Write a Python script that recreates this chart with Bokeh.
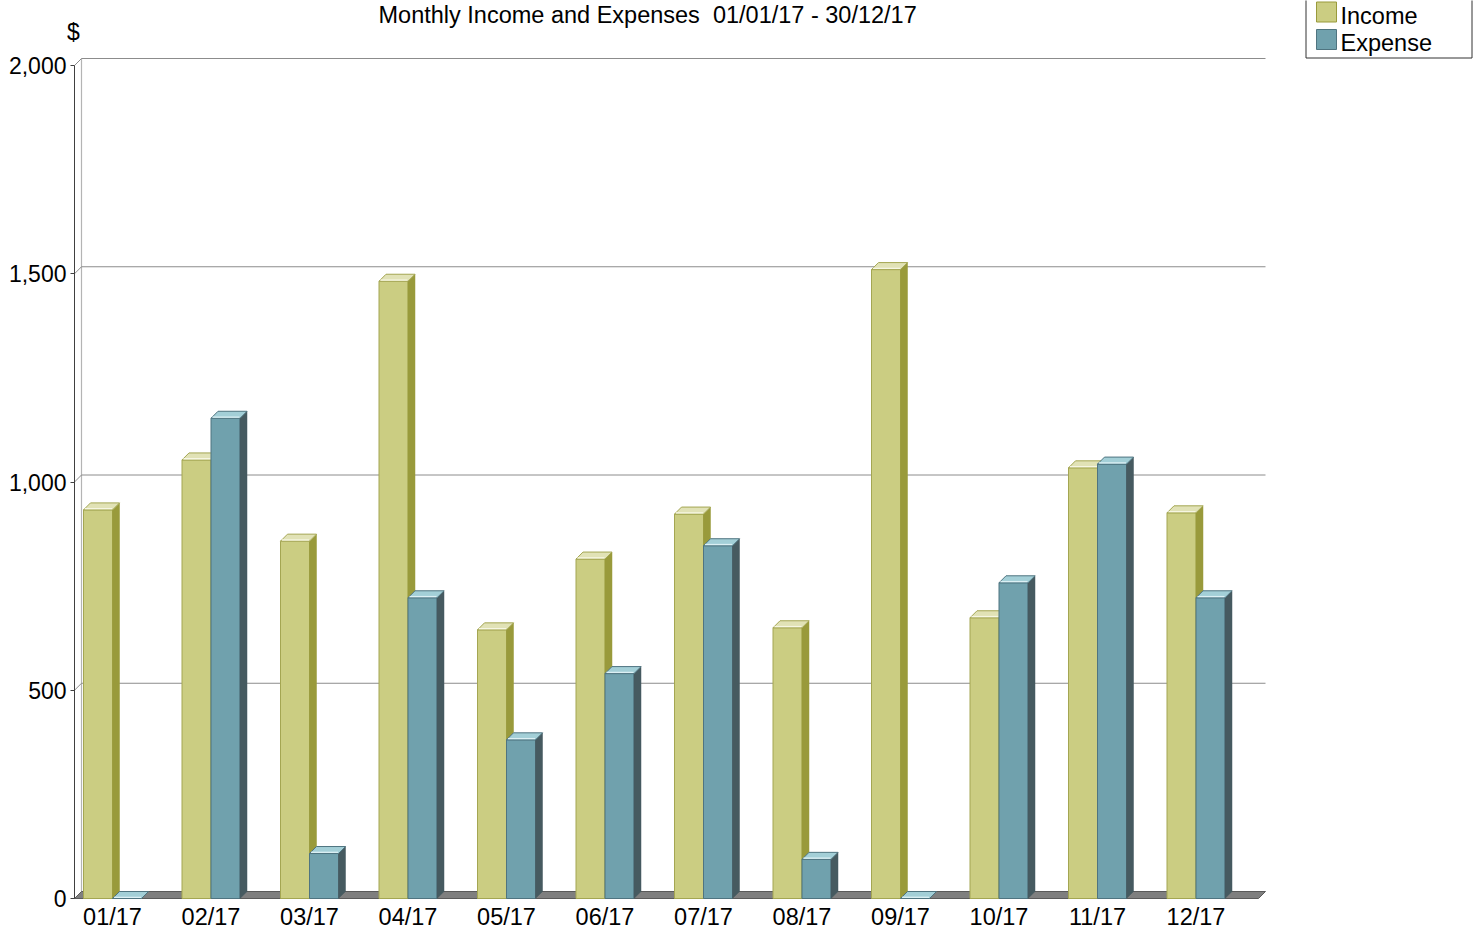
from bokeh.plotting import figure
from bokeh.models import Range1d, FixedTicker, NumeralTickFormatter
from bokeh.core.properties import value
from bokeh.embed import file_html
from bokeh.resources import INLINE

# ---------------- data ----------------
months = ["01/17", "02/17", "03/17", "04/17", "05/17", "06/17",
          "07/17", "08/17", "09/17", "10/17", "11/17", "12/17"]
income = [933, 1053, 858, 1482, 645, 815, 923, 650, 1510, 674, 1034, 926]
expense = [0, 1153, 108, 722, 381, 540, 847, 94, 0, 758, 1043, 722]
series_names = ["Income", "Expense"]
y_ticks = [0, 500, 1000, 1500, 2000]
title_text = "Monthly Income and Expenses \u00a001/01/17 - 30/12/17"
y_unit = "$"

# ---------------- styles ----------------
FONT = "Liberation Sans"
INC = dict(front="#cbcd82", side="#999a3b", top="#e1e2b6", edge="#a4a652",
           shine="#f6f6e2")
EXP = dict(front="#70a1ad", side="#465a60", top="#a3cfd7", edge="#4f7480",
           shine="#dcf0f4")

# ---------------- layout (pixels) ----------------
CANVAS_W, CANVAS_H = 1475, 932
AX_LEFT, AX_BOTTOM = 74, 898      # front axis corner
WALL_TOP = 58                     # back wall top (max tick, back plane)
PLOT_RIGHT = 1265                 # right end of back wall
GROUP_PX = 98.5                   # pixels between month centres
BAR_PX = 29                       # front-face width of one bar
DEPTH_PX = 7                      # 3-D depth offset (px, right and up)
FIRST_CENTER_PX = 38              # first month centre, from axis

PXX = 1.0 / GROUP_PX
PXY = max(y_ticks) / (AX_BOTTOM - WALL_TOP - DEPTH_PX)
X0 = -FIRST_CENTER_PX * PXX              # data x at the front axis
XEND = X0 + (PLOT_RIGHT - AX_LEFT) * PXX  # data x at right end of wall
DX = DEPTH_PX * PXX
DY = DEPTH_PX * PXY
BW = BAR_PX * PXX

XS = X0 - AX_LEFT * PXX
XE = XS + CANVAS_W * PXX
YS = -(CANVAS_H - AX_BOTTOM) * PXY
YE = YS + CANVAS_H * PXY


def sx(px):
    return XS + px * PXX


def sy(py):
    return YS + (CANVAS_H - py) * PXY


p = figure(frame_width=CANVAS_W, frame_height=CANVAS_H,
           x_range=Range1d(XS, XE), y_range=Range1d(YS, YE),
           output_backend="svg", toolbar_location=None,
           min_border=0, outline_line_color=None,
           background_fill_color="white", border_fill_color="white")
p.xgrid.visible = False
p.ygrid.visible = False

# back wall left edge
p.segment(x0=[X0 + DX], y0=[DY], x1=[X0 + DX], y1=[max(y_ticks) + DY],
          line_color="#b4b4b4", line_width=1.2)
# back gridlines
gt = [t for t in y_ticks if t > 0]
p.segment(x0=[X0 + DX] * len(gt), y0=[t + DY for t in gt],
          x1=[XEND] * len(gt), y1=[t + DY for t in gt],
          line_color="#8c8c8c", line_width=1)
# connectors from front axis to back wall
p.segment(x0=[X0] * len(y_ticks), y0=list(y_ticks),
          x1=[X0 + DX] * len(y_ticks), y1=[t + DY for t in y_ticks],
          line_color="#8c8c8c", line_width=1)
# floor
p.patch(x=[X0, XEND - DX, XEND, X0 + DX], y=[0, 0, DY, DY],
        fill_color="#7f7f7f", line_color="#5a5a5a", line_width=1)


def draw_series(vals, offset, c):
    lefts = [i + offset for i in range(len(vals))]
    rights = [l + BW for l in lefts]
    p.quad(left=lefts, right=rights, bottom=[0] * len(vals), top=vals,
           fill_color=c["front"], line_color=c["edge"], line_width=1)
    xs_s, ys_s, xs_t, ys_t = [], [], [], []
    for l, r, v in zip(lefts, rights, vals):
        xs_s.append([r, r + DX, r + DX, r])
        ys_s.append([0, DY, v + DY, v])
        xs_t.append([l, r, r + DX, l + DX])
        ys_t.append([v, v, v + DY, v + DY])
    p.patches(xs=xs_s, ys=ys_s, fill_color=c["side"], line_color=c["side"],
              line_width=0.5)
    p.patches(xs=xs_t, ys=ys_t, fill_color=c["top"], line_color=c["edge"],
              line_width=1)
    # light highlight along the front top edge
    p.segment(x0=[l + 1.5 * PXX for l in lefts], y0=[v + 1.2 * PXY for v in vals],
              x1=[r - 0.5 * PXX for r in rights], y1=[v + 1.2 * PXY for v in vals],
              line_color=c["shine"], line_width=1.3)


draw_series(income, -BW, INC)
draw_series(expense, 0.0, EXP)

# ---------------- axes (placed at the front corner) ----------------
xa = p.xaxis[0]
xa.fixed_location = 0
xa.ticker = FixedTicker(ticks=list(range(len(months))))
xa.major_label_overrides = {i: m for i, m in enumerate(months)}
xa.axis_line_color = None
xa.major_tick_line_color = None
xa.minor_tick_line_color = None
xa.major_tick_out = 0
xa.major_tick_in = 0
xa.major_label_standoff = 5
xa.major_label_text_font = FONT
xa.major_label_text_font_size = "23.5px"
xa.major_label_text_color = "black"

ya = p.yaxis[0]
ya.fixed_location = X0
ya.ticker = FixedTicker(ticks=y_ticks)
ya.formatter = NumeralTickFormatter(format="0,0")
ya.bounds = (0, max(y_ticks))
ya.axis_line_color = "#404040"
ya.major_tick_line_color = "#404040"
ya.major_tick_out = 4
ya.major_tick_in = 0
ya.minor_tick_line_color = None
ya.major_label_standoff = 4
ya.major_label_text_font = FONT
ya.major_label_text_font_size = "23px"
ya.major_label_text_color = "black"

# ---------------- title, unit ----------------
p.text(x=[sx(378)], y=[sy(14.5)], text=[title_text], text_font=value(FONT),
       text_font_size="23.5px", text_color="black",
       text_align="left", text_baseline="middle")
p.text(x=[sx(73)], y=[sy(31)], text=[y_unit], text_font=value(FONT),
       text_font_size="23px", text_color="black",
       text_align="center", text_baseline="middle")

# ---------------- legend ----------------
p.quad(left=[sx(1305.5)], right=[sx(1471.5)], top=[sy(-3)], bottom=[sy(57.5)],
       fill_color="white", line_color="#333333", line_width=1)
p.quad(left=[sx(1316)] * 2, right=[sx(1336)] * 2,
       top=[sy(1.5), sy(29)], bottom=[sy(21.5), sy(49)],
       fill_color=[INC["front"], EXP["front"]],
       line_color=[INC["side"], EXP["edge"]], line_width=1)
p.text(x=[sx(1340)] * 2, y=[sy(15.5), sy(42.5)], text=series_names,
       text_font=value(FONT), text_font_size="23.5px", text_color="black",
       text_align="left", text_baseline="middle")

open("out.html", "w").write(file_html(p, INLINE))
